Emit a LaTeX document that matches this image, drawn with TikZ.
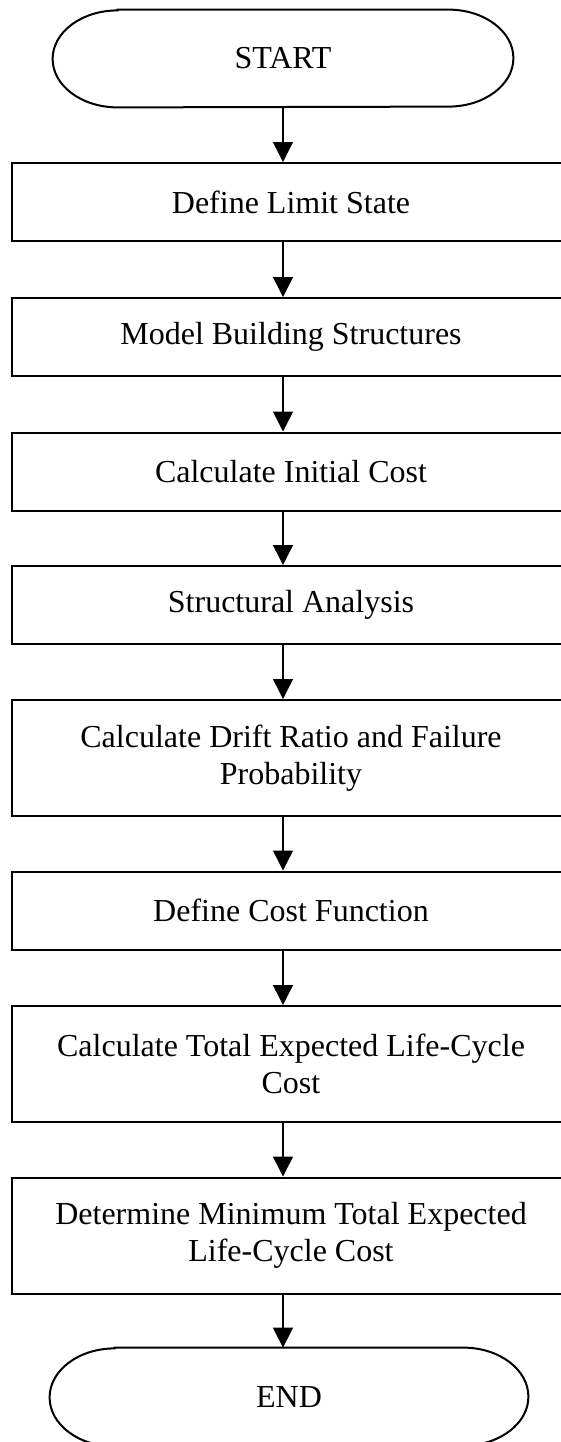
\documentclass[tikz,border=0pt]{standalone}
\usepackage{fontspec}
\setmainfont{Liberation Serif}
\usetikzlibrary{arrows.meta, positioning}

\begin{document}
\begin{tikzpicture}[x=0.5pt, y=0.5pt,
          font=\fontsize{16}{18.5}\selectfont,
          proc/.style={draw, line width=1pt, minimum width=279pt, minimum height=39pt, inner sep=0pt, align=center},
          tall/.style={proc, minimum height=58pt},
          term/.style={inner sep=0pt},
          flow/.style={-{Triangle[length=10pt, width=10pt]}, line width=0.7pt}]
          \useasboundingbox (0,0) rectangle (561,-1442);

          % Terminals
          \node[term, minimum width=230pt, minimum height=48.5pt] (start) at (283,-58.5) {START};
          \node[term, minimum width=239pt, minimum height=49pt] (end) at (289,-1397) {END};

          % Steps
          \node[proc] (b1) at (291,-202) {Define Limit State};
          \node[proc] (b2) at (291,-337) {Model Building Structures};
          \node[proc] (b3) at (291,-471.5) {Calculate Initial Cost};
          \node[proc] (b4) at (291,-605) {Structural Analysis};
          \node[tall] (b5) at (291,-758) {Calculate Drift Ratio and Failure\\Probability};
          \node[proc] (b6) at (291,-910.5) {Define Cost Function};
          \node[tall] (b7) at (291,-1064) {Calculate Total Expected Life-Cycle\\Cost};
          \node[tall] (b8) at (291,-1235.5) {Determine Minimum Total Expected\\Life-Cycle Cost};

          % Terminal outlines
          \draw[line width=1pt] ([xshift=32.5pt]start.north west) -- ([xshift=-32.5pt]start.north east)
            arc[start angle=90, end angle=-90, x radius=32.5pt, y radius=24.25pt]
            -- ([xshift=32.5pt]start.south west)
            arc[start angle=270, end angle=90, x radius=32.5pt, y radius=24.25pt] -- cycle;
          \draw[line width=1pt] ([xshift=32.5pt]end.north west) -- ([xshift=-32.5pt]end.north east)
            arc[start angle=90, end angle=-90, x radius=32.5pt, y radius=24.5pt]
            -- ([xshift=32.5pt]end.south west)
            arc[start angle=270, end angle=90, x radius=32.5pt, y radius=24.5pt] -- cycle;

          % Flow
          \draw[flow] (start.south) -- (b1.north -| start);
          \draw[flow] (b1.south -| start) -- (b2.north -| start);
          \draw[flow] (b2.south -| start) -- (b3.north -| start);
          \draw[flow] (b3.south -| start) -- (b4.north -| start);
          \draw[flow] (b4.south -| start) -- (b5.north -| start);
          \draw[flow] (b5.south -| start) -- (b6.north -| start);
          \draw[flow] (b6.south -| start) -- (b7.north -| start);
          \draw[flow] (b7.south -| start) -- (b8.north -| start);
          \draw[flow] (b8.south -| start) -- (end.north -| start);
        \end{tikzpicture}
\end{document}
